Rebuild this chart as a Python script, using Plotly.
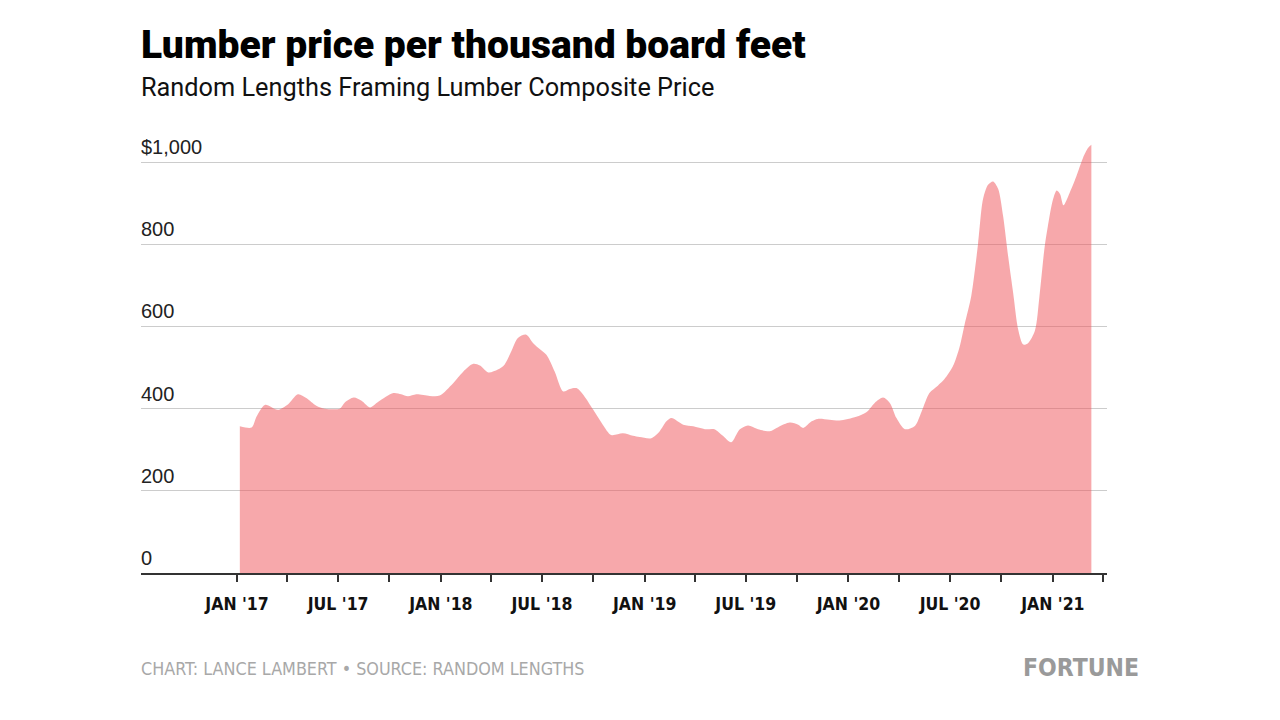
import plotly.graph_objects as go

# ---- data ----
dates = [
    "2017-01-06", "2017-01-27", "2017-02-05", "2017-02-20", "2017-03-15", "2017-04-02",
    "2017-04-20", "2017-05-05", "2017-05-23", "2017-06-07", "2017-07-04", "2017-07-13",
    "2017-07-29", "2017-08-12", "2017-08-27", "2017-09-11", "2017-10-08", "2017-10-22",
    "2017-11-03", "2017-11-18", "2017-12-12", "2017-12-30", "2018-01-23", "2018-02-10",
    "2018-02-28", "2018-03-12", "2018-03-27", "2018-04-13", "2018-04-25", "2018-05-07",
    "2018-05-19", "2018-06-03", "2018-06-15", "2018-06-27", "2018-07-09", "2018-07-24",
    "2018-08-08", "2018-08-20", "2018-09-01", "2018-09-13", "2018-10-01", "2018-10-18",
    "2018-11-02", "2018-11-23", "2018-12-11", "2018-12-23", "2019-01-13", "2019-01-28",
    "2019-02-09", "2019-02-18", "2019-03-11", "2019-03-29", "2019-04-19", "2019-05-06",
    "2019-05-21", "2019-06-05", "2019-06-20", "2019-07-05", "2019-07-23", "2019-08-13",
    "2019-08-28", "2019-09-18", "2019-10-03", "2019-10-12", "2019-10-27", "2019-11-07",
    "2019-11-28", "2019-12-16", "2020-01-15", "2020-02-02", "2020-02-17", "2020-03-03",
    "2020-03-15", "2020-03-27", "2020-04-11", "2020-04-29", "2020-05-11", "2020-05-25",
    "2020-06-09", "2020-06-21", "2020-07-06", "2020-07-18", "2020-07-27", "2020-08-08",
    "2020-08-20", "2020-08-29", "2020-09-07", "2020-09-16", "2020-09-25", "2020-10-04",
    "2020-10-13", "2020-10-22", "2020-10-31", "2020-11-09", "2020-11-18", "2020-11-30",
    "2020-12-08", "2020-12-17", "2020-12-23", "2021-01-01", "2021-01-08", "2021-01-14",
    "2021-01-20", "2021-01-31", "2021-02-12", "2021-02-24", "2021-03-05", "2021-03-11",
]
prices = [
    357, 354, 381, 409, 397, 410,
    435, 426, 407, 400, 400, 415,
    427, 419, 403, 417, 438, 435,
    430, 435, 431, 432, 462, 490,
    509, 505, 488, 495, 507, 539,
    572, 580, 560, 545, 531, 490,
    442, 448, 450, 434, 397, 361,
    336, 340, 334, 331, 328, 345,
    369, 377, 361, 357, 350, 350,
    334, 318, 349, 359, 350, 345,
    355, 366, 361, 353, 369, 375,
    373, 371, 380, 391, 414, 427,
    414, 377, 350, 358, 393, 438,
    456, 472, 503, 550, 605, 675,
    800, 910, 945, 953, 935, 868,
    770, 681, 592, 556, 560, 590,
    673, 790, 843, 908, 931, 922,
    895, 925, 965, 1010, 1034, 1042,
]

label_ticks = ["2017-01-01", "2017-07-01", "2018-01-01", "2018-07-01", "2019-01-01",
               "2019-07-01", "2020-01-01", "2020-07-01", "2021-01-01"]
label_text = ["JAN '17", "JUL '17", "JAN '18", "JUL '18", "JAN '19",
              "JUL '19", "JAN '20", "JUL '20", "JAN '21"]
quarter_ticks = ["2017-01-01", "2017-04-01", "2017-07-01", "2017-10-01",
                 "2018-01-01", "2018-04-01", "2018-07-01", "2018-10-01",
                 "2019-01-01", "2019-04-01", "2019-07-01", "2019-10-01",
                 "2020-01-01", "2020-04-01", "2020-07-01", "2020-10-01",
                 "2021-01-01", "2021-04-01"]
y_ticks = [0, 200, 400, 600, 800, 1000]
y_text = ["0", "200", "400", "600", "800", "$1,000"]

COND = "DejaVu Sans Condensed, DejaVu Sans, sans-serif"
ROBO = "Roboto, Liberation Sans, sans-serif"
REG = "Liberation Sans, Arial, sans-serif"

fig = go.Figure()
fig.add_trace(go.Scatter(
    x=dates, y=prices, mode="lines",
    line=dict(width=0, shape="spline", smoothing=0.8, color="rgba(0,0,0,0)"),
    fill="tozeroy", fillcolor="rgba(240,82,88,0.5)",
    hoverinfo="skip", showlegend=False,
))

# the page body has an 8px margin, so the figure is 8px smaller and margins shifted
fig.update_layout(
    width=1272, height=712,
    paper_bgcolor="white", plot_bgcolor="white",
    margin=dict(l=133, r=173, t=113, b=147, pad=0),
    showlegend=False,
    xaxis=dict(
        type="date",
        range=["2016-07-13", "2021-04-08"],
        tickmode="array", tickvals=label_ticks, ticktext=label_text,
        ticks="outside", ticklen=7, tickwidth=1.5, tickcolor="#333",
        ticklabelstandoff=7,
        tickfont=dict(family=COND, size=17.5, color="#111", weight="bold"),
        showline=True, linecolor="#333", linewidth=1.5,
        showgrid=False, zeroline=False,
        minor=dict(tickmode="array", tickvals=quarter_ticks, ticks="outside",
                   ticklen=7, tickwidth=1.5, tickcolor="#333", showgrid=False),
        fixedrange=True,
    ),
    yaxis=dict(
        range=[0, 1100],
        tickmode="array", tickvals=y_ticks, showticklabels=False,
        showgrid=True, gridcolor="#cccccc", gridwidth=1.2,
        zeroline=False, showline=False, ticks="",
        fixedrange=True,
    ),
)

for v, t in zip(y_ticks, y_text):
    fig.add_annotation(
        x=0, xref="paper", y=v, yref="y", text=t, showarrow=False,
        xanchor="left", yanchor="middle", yshift=15, xshift=-2,
        font=dict(family=REG, size=20, color="#222"),
    )

fig.add_annotation(
    x=0, xref="paper", y=1.168, yref="paper", text="Lumber price per thousand board feet",
    showarrow=False, xanchor="left", yanchor="middle", xshift=-2,
    font=dict(family=ROBO, size=39, color="#000", weight=900),
)
fig.add_annotation(
    x=0, xref="paper", y=1.075, yref="paper", text="Random Lengths Framing Lumber Composite Price",
    showarrow=False, xanchor="left", yanchor="middle", xshift=-2,
    font=dict(family=ROBO, size=25.3, color="#111"),
)
fig.add_annotation(
    x=0, xref="paper", y=-0.212, yref="paper",
    text="CHART: LANCE LAMBERT \u2022 SOURCE: RANDOM LENGTHS",
    showarrow=False, xanchor="left", yanchor="middle", xshift=-2,
    font=dict(family=COND, size=17.8, color="#a8a8a8"),
)
fig.add_annotation(
    x=1.035, xref="paper", y=-0.208, yref="paper", text="FORTUNE",
    showarrow=False, xanchor="right", yanchor="middle",
    font=dict(family=COND, size=24.5, color="#9a9a9a", weight="bold"),
)

fig.write_html("out.html")
